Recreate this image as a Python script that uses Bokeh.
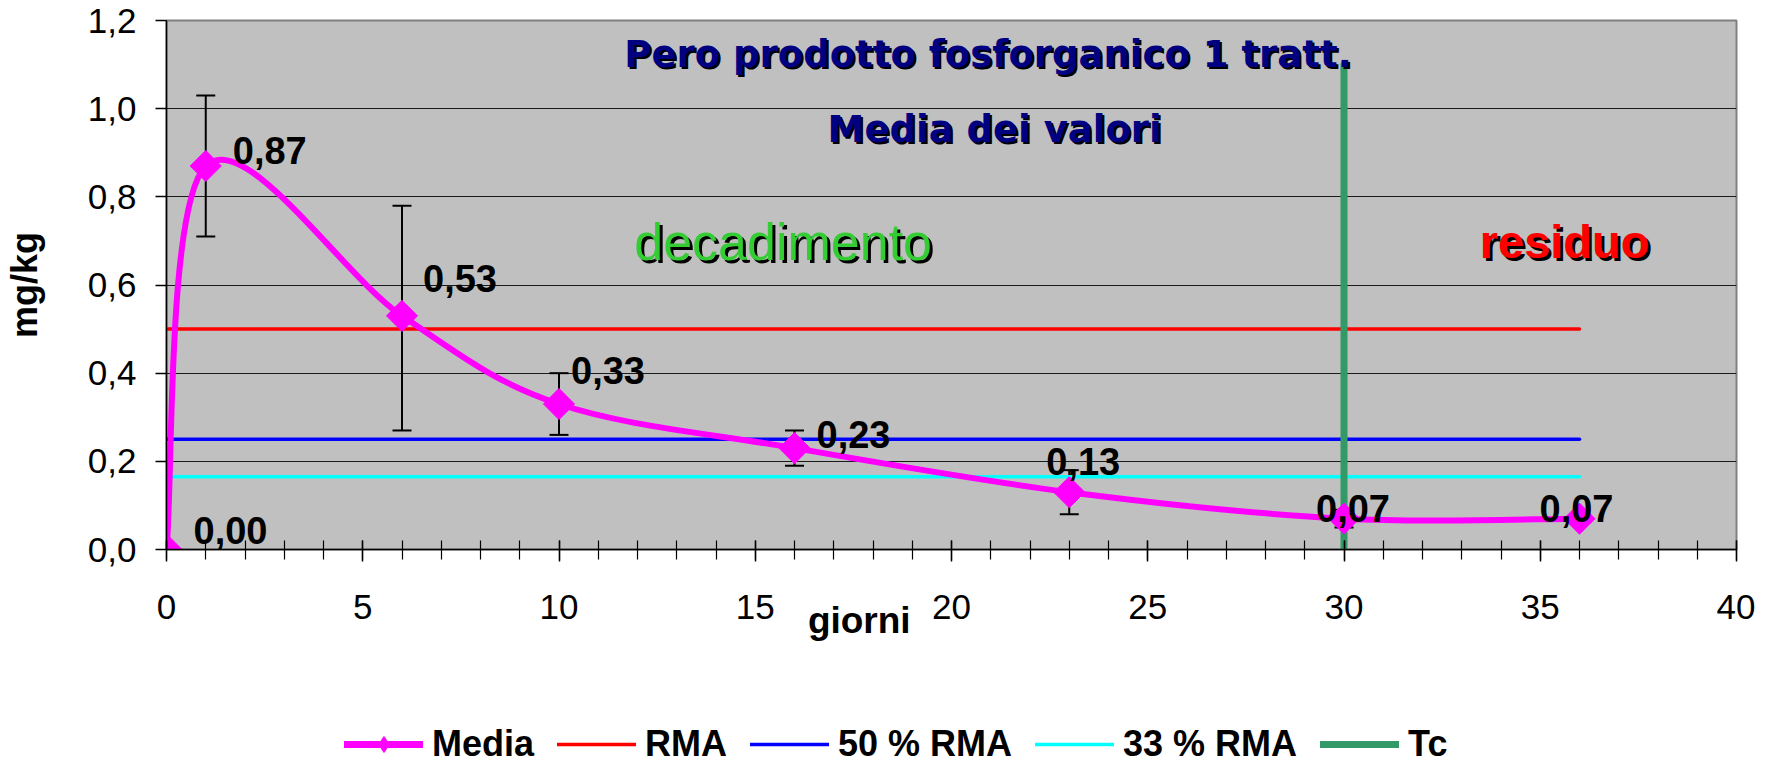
import numpy as np
from bokeh.plotting import figure
from bokeh.layouts import column
from bokeh.models import (ColumnDataSource, Whisker, TeeHead, Legend, LegendItem, LinearAxis,
                          FixedTicker, CustomJSTickFormatter)
from bokeh.core.properties import value
from bokeh.embed import file_html
from bokeh.resources import INLINE

# ---------------- data ----------------
days = [0, 1, 6, 10, 16, 23, 30, 36]
media = [0.00, 0.87, 0.53, 0.33, 0.23, 0.13, 0.07, 0.07]

err_days = [1, 6, 10, 16, 23, 30]
err_upper = [1.03, 0.78, 0.40, 0.27, 0.18, 0.09]
err_lower = [0.71, 0.27, 0.26, 0.19, 0.08, 0.05]

rma = 0.50
rma_50 = 0.25
rma_33 = 0.165
ref_days = [0, 36]
tc_day = 30
tc_top = 1.10

x_ticks = [0, 5, 10, 15, 20, 25, 30, 35, 40]
x_minor = list(range(0, 41))
y_ticks = [0.0, 0.2, 0.4, 0.6, 0.8, 1.0, 1.2]

title_line1 = "Pero prodotto fosforganico 1 tratt."
title_line2 = "Media dei valori"
x_label = "giorni"
y_label = "mg/kg"
zone_left = "decadimento"
zone_right = "residuo"
legend_labels = ["Media", "RMA", "50 % RMA", "33 % RMA", "Tc"]

# label offsets (screen px, styling only)
label_dx = [27, 27, 21, 12, 22, -23, -28, -40]
label_dy = [-19, -15, -37, -34, -14, -31, -10, -10]

FONT_NAME = "Liberation Sans"
FONT = value(FONT_NAME)
TFONT = value("DejaVu Sans")

C_MEDIA, C_RMA, C_50, C_33, C_TC = "#FF00FF", "#FF0000", "#0000FF", "#00FFFF", "#339966"


def smooth_controls(xs, ys):
    P = np.column_stack([xs, ys]).astype(float)
    n = len(P)
    c0, c1 = [], []
    for i in range(n - 1):
        pm = P[i - 1] if i > 0 else P[i]
        pp = P[i + 2] if i + 2 < n else P[i + 1]
        c0.append(P[i] + (P[i + 1] - pm) / 6.0)
        c1.append(P[i + 1] - (pp - P[i]) / 6.0)
    c0 = np.array(c0)
    c1 = np.array(c1)
    return dict(x0=P[:-1, 0], y0=P[:-1, 1], x1=P[1:, 0], y1=P[1:, 1],
                cx0=c0[:, 0], cy0=c0[:, 1], cx1=c1[:, 0], cy1=c1[:, 1])


p = figure(width=1755, height=690, x_range=(0, 40), y_range=(0, 1.2),
           output_backend="svg", toolbar_location=None,
           min_border_left=163, min_border_right=19, min_border_top=20,
           min_border_bottom=141)
p.background_fill_color = "#C0C0C0"
p.border_fill_color = "white"
p.outline_line_color = "#808080"
p.outline_line_width = 2

# axes
p.xaxis.ticker = FixedTicker(ticks=x_ticks, minor_ticks=x_minor)
p.yaxis.ticker = FixedTicker(ticks=y_ticks)
p.yaxis.formatter = CustomJSTickFormatter(code="return tick.toFixed(1).replace('.', ',')")
for ax in (p.xaxis, p.yaxis):
    ax.axis_line_color = "black"
    ax.axis_line_width = 1.5
    ax.major_tick_line_color = "black"
    ax.major_tick_line_width = 1.5
    ax.major_label_text_font = FONT_NAME
    ax.major_label_text_font_size = "35px"
    ax.major_label_text_color = "black"
p.xaxis.major_tick_in = 9
p.xaxis.major_tick_out = 12
p.xaxis.minor_tick_in = 9
p.xaxis.minor_tick_out = 10
p.xaxis.minor_tick_line_color = "black"
p.xaxis.minor_tick_line_width = 1.2
p.xaxis.major_label_standoff = 33
p.yaxis.major_tick_in = 0
p.yaxis.major_tick_out = 11
p.yaxis.minor_tick_line_color = None
p.yaxis.major_label_standoff = 19
p.yaxis.axis_label = y_label
p.yaxis.axis_label_text_font = FONT_NAME
p.yaxis.axis_label_text_font_size = "36px"
p.yaxis.axis_label_text_font_style = "bold"
p.yaxis.axis_label_text_color = "black"
p.yaxis.axis_label_standoff = 40

# "giorni" label: a secondary, line-less axis carrying a single label
giorni_pos = 17.65
ax2 = LinearAxis(ticker=FixedTicker(ticks=[giorni_pos]),
                 formatter=CustomJSTickFormatter(code=f"return '{x_label}'"),
                 axis_line_color=None, major_tick_line_color=None, minor_tick_line_color=None,
                 major_tick_in=0, major_tick_out=0, major_label_standoff=-22,
                 major_label_text_font=FONT_NAME, major_label_text_font_size="37px",
                 major_label_text_font_style="bold", major_label_text_color="black")
p.add_layout(ax2, "below")

p.xgrid.visible = False
p.ygrid.ticker = FixedTicker(ticks=y_ticks)
p.ygrid.grid_line_color = "#1a1a1a"
p.ygrid.grid_line_width = 1

# error bars
err_src = ColumnDataSource(dict(x=err_days, upper=err_upper, lower=err_lower))
whisk = Whisker(source=err_src, base="x", upper="upper", lower="lower", dimension="height",
                line_color="black", line_width=2,
                upper_head=TeeHead(size=19, line_width=2, line_color="black"),
                lower_head=TeeHead(size=19, line_width=2, line_color="black"))
p.add_layout(whisk)


def draw_series(fig, curve=True):
    """Draw the reference lines, Tc and the Media series on a figure; return renderers."""
    r_rma = fig.line(ref_days, [rma] * len(ref_days), line_color=C_RMA, line_width=3.5, line_cap="round")
    r_50 = fig.line(ref_days, [rma_50] * len(ref_days), line_color=C_50, line_width=3.5, line_cap="round")
    r_33 = fig.line(ref_days, [rma_33] * len(ref_days), line_color=C_33, line_width=3.5, line_cap="round")
    r_tc = fig.line([tc_day, tc_day], [0, tc_top], line_color=C_TC, line_width=7, line_cap="round")
    if curve:
        src = ColumnDataSource(smooth_controls(days, media))
        r_line = fig.bezier(x0="x0", y0="y0", x1="x1", y1="y1", cx0="cx0", cy0="cy0",
                            cx1="cx1", cy1="cy1", source=src,
                            line_color=C_MEDIA, line_width=6, line_cap="round", line_join="round")
        r_mark = fig.scatter(days, media, marker="square", angle=np.pi / 4, size=22,
                             fill_color=C_MEDIA, line_color=C_MEDIA)
    else:
        r_line = fig.line(days, media, line_color=C_MEDIA, line_width=7, line_cap="round")
        r_mark = fig.scatter(days, media, marker="diamond", size=22,
                             fill_color=C_MEDIA, line_color=C_MEDIA)
    return r_line, r_mark, r_rma, r_50, r_33, r_tc


draw_series(p, curve=True)

# data labels
lab_src = ColumnDataSource(dict(x=days, y=media,
                                t=[f"{v:.2f}".replace(".", ",") for v in media],
                                dx=label_dx, dy=label_dy))
p.text(x="x", y="y", text="t", x_offset="dx", y_offset="dy", source=lab_src,
       text_font=FONT, text_font_style="bold", text_font_size="38px",
       text_color="black", text_align="left", text_baseline="alphabetic")


def shadow_text(x, y, txt, color, font, size, style, off):
    p.text(x=[x], y=[y], text=[txt], x_offset=off, y_offset=off, text_font=font,
           text_font_size=size, text_font_style=style, text_color="black",
           text_align="center", text_baseline="alphabetic")
    p.text(x=[x], y=[y], text=[txt], text_font=font,
           text_font_size=size, text_font_style=style, text_color=color,
           text_align="center", text_baseline="alphabetic")


shadow_text(20.93, 1.123, title_line1, "#000080", TFONT, "37px", "bold", 2)
shadow_text(21.1, 0.953, title_line2, "#000080", TFONT, "37px", "bold", 2)
shadow_text(15.71, 0.697, zone_left, "#33CC33", FONT, "52px", "normal", 3)
shadow_text(35.62, 0.699, zone_right, "#FF0000", FONT, "47px", "bold", 3)

# ---------------- legend strip (its series lie outside its view) ----------------
q = figure(width=1755, height=75, x_range=(-3, -2), y_range=(-3, -2),
           output_backend="svg", toolbar_location=None,
           x_axis_type=None, y_axis_type=None,
           min_border_left=0, min_border_right=0, min_border_top=0, min_border_bottom=0)
q.outline_line_color = None
q.background_fill_color = "white"
q.border_fill_color = "white"
q.grid.visible = False
lg_line, lg_mark, lg_rma, lg_50, lg_33, lg_tc = draw_series(q, curve=False)

legend = Legend(items=[
    LegendItem(label=legend_labels[0], renderers=[lg_line, lg_mark]),
    LegendItem(label=legend_labels[1], renderers=[lg_rma]),
    LegendItem(label=legend_labels[2], renderers=[lg_50]),
    LegendItem(label=legend_labels[3], renderers=[lg_33]),
    LegendItem(label=legend_labels[4], renderers=[lg_tc]),
], orientation="horizontal", location=(178, 0), glyph_width=79, glyph_height=40,
    label_standoff=9, spacing=23, padding=0, margin=0,
    background_fill_alpha=0, border_line_alpha=0,
    label_text_font=FONT_NAME, label_text_font_size="36px", label_text_font_style="bold",
    label_text_color="black")
q.add_layout(legend, "center")

layout = column(p, q, spacing=0)
open("out.html", "w").write(file_html(layout, INLINE))
